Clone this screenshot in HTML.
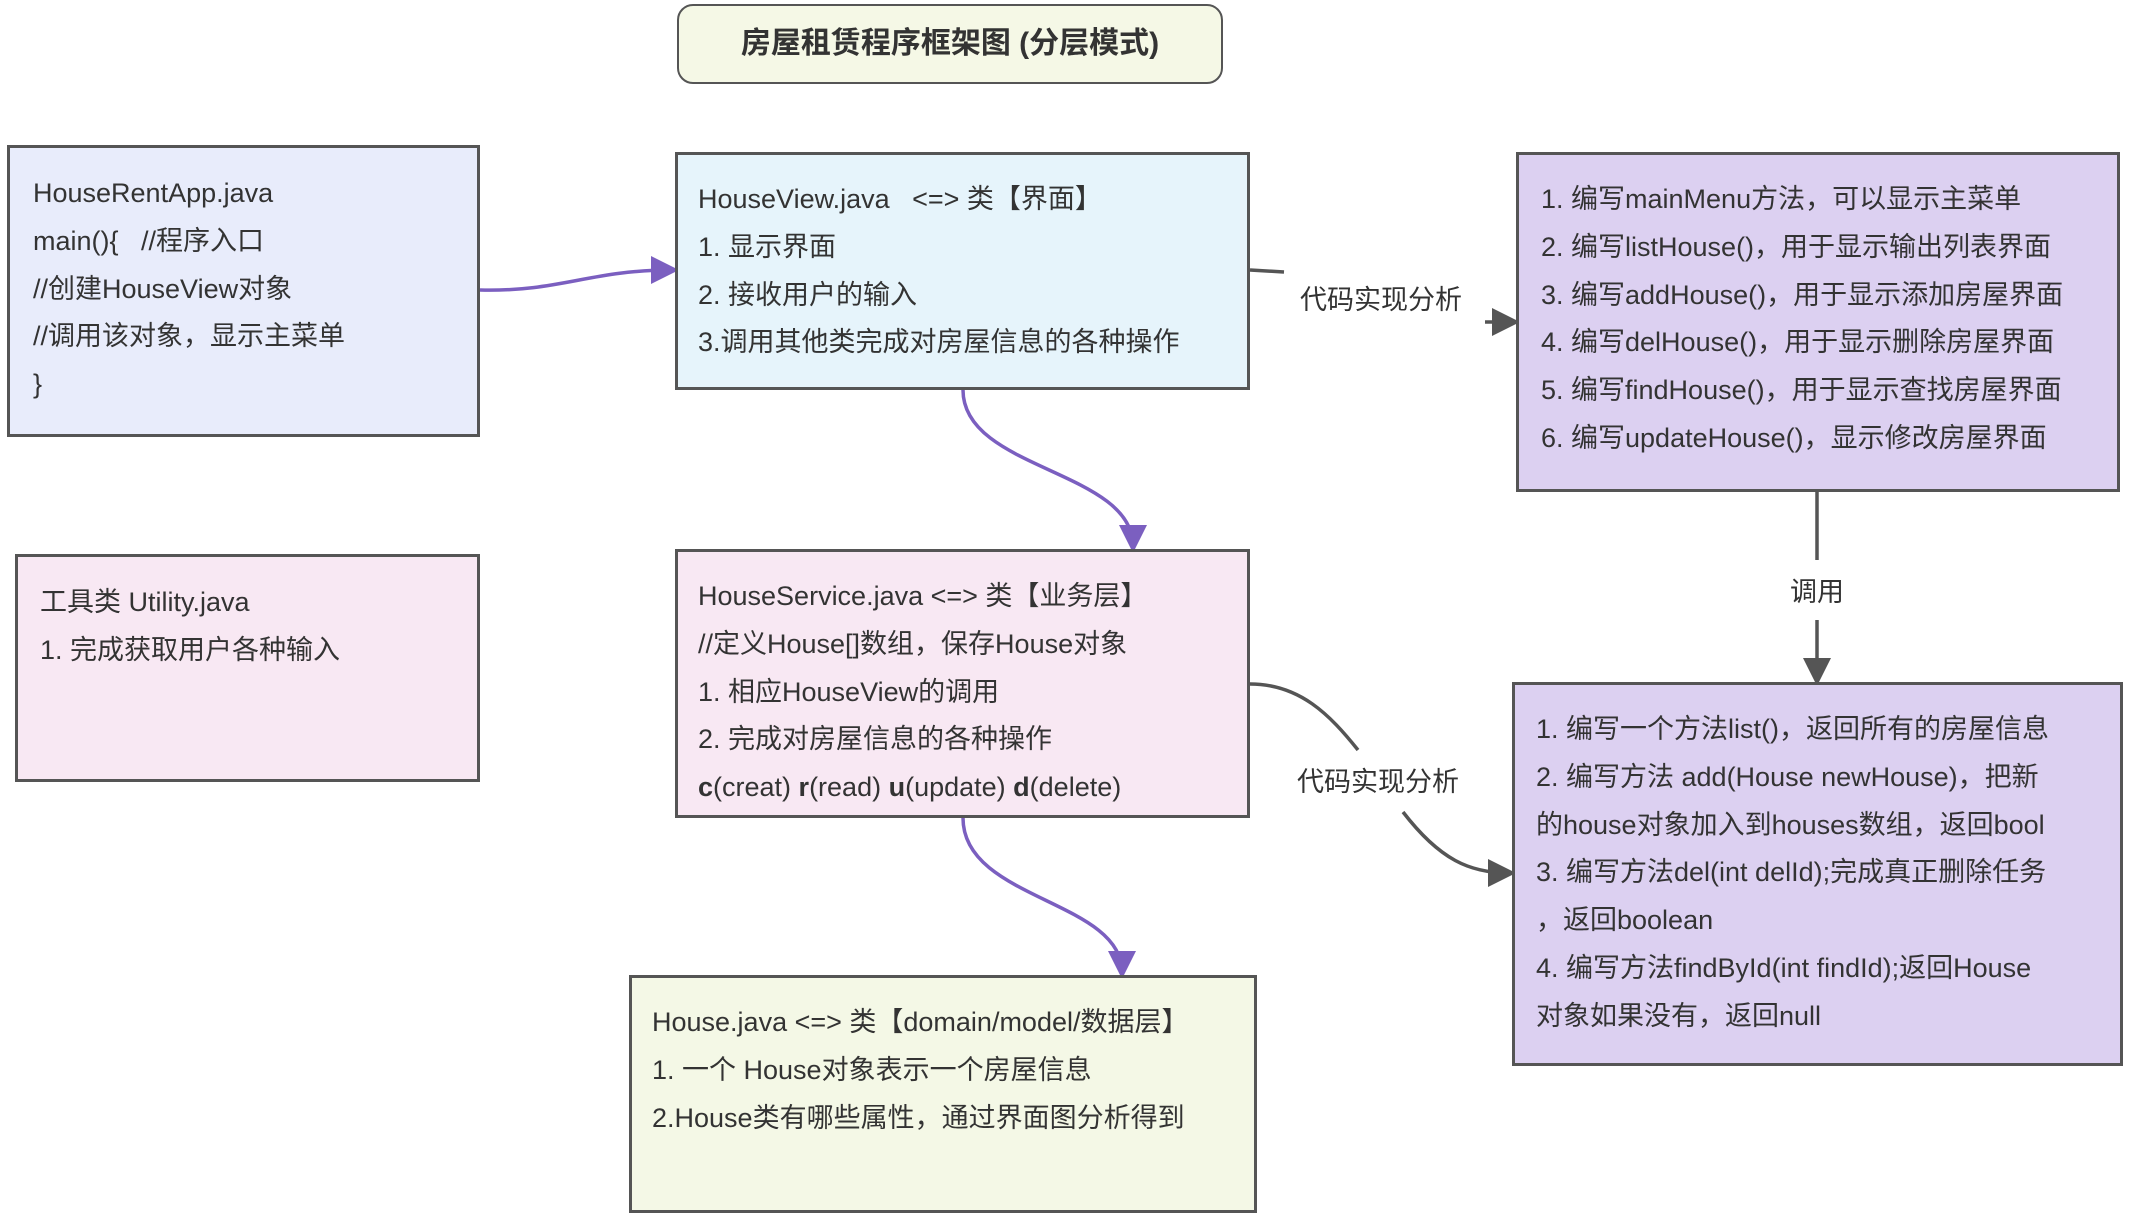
<!DOCTYPE html>
<html><head><meta charset="utf-8"><style>
body{margin:0;width:2130px;height:1219px;background:#fff;position:relative;overflow:hidden;font-family:"Liberation Sans","Noto Sans CJK SC",sans-serif;color:#333;}
.b{position:absolute;box-sizing:border-box;border:3px solid #555;font-size:27px;line-height:47.8px;white-space:nowrap;}
.l{position:absolute;font-size:27px;color:#333;background:#fff;white-space:nowrap;}
</style></head><body>
<svg width="2130" height="1219" style="position:absolute;left:0;top:0">
<defs>
<marker id="p" markerWidth="8" markerHeight="8" refX="6" refY="4" orient="auto"><path d="M0,0L8,4L0,8z" fill="#7b5fc0"/></marker>
<marker id="g" markerWidth="8" markerHeight="8" refX="6" refY="4" orient="auto"><path d="M0,0L8,4L0,8z" fill="#555"/></marker>
</defs>
<g fill="none" stroke-width="3.5">
<path d="M480,290 C560,292 590,270 672,270" stroke="#7b5fc0" marker-end="url(#p)"/>
<path d="M963,390 C963,470 1133,470 1133,546" stroke="#7b5fc0" marker-end="url(#p)"/>
<path d="M963,818 C963,900 1122,900 1122,972" stroke="#7b5fc0" marker-end="url(#p)"/>
<path d="M1250,270 L1284,272" stroke="#555"/>
<path d="M1485,322 L1513,322" stroke="#555" marker-end="url(#g)"/>
<path d="M1817,492 L1817,560" stroke="#555"/>
<path d="M1817,620 L1817,679" stroke="#555" marker-end="url(#g)"/>
<path d="M1250,684 C1300,684 1330,715 1358,750" stroke="#555"/>
<path d="M1403,812 C1440,860 1470,873 1509,873" stroke="#555" marker-end="url(#g)"/>
</g>
</svg>
<div class="b" style="left:677px;top:4px;width:546px;height:80px;border-radius:16px;background:#f5f8e6;border-width:2px;text-align:center;line-height:76px;font-weight:bold;font-size:30px;">房屋租赁程序框架图 (分层模式)</div>
<div class="b" style="left:7px;top:145px;width:473px;height:292px;background:#e8ecfb;padding:22px 0 0 23px;">HouseRentApp.java<br>main(){&nbsp;&nbsp; //程序入口<br>//创建HouseView对象<br>//调用该对象，显示主菜单<br>}</div>
<div class="b" style="left:15px;top:554px;width:465px;height:228px;background:#f8e8f3;padding:22px 0 0 22px;">工具类 Utility.java<br>1. 完成获取用户各种输入</div>
<div class="b" style="left:675px;top:152px;width:575px;height:238px;background:#e6f4fb;padding:21px 0 0 20px;">HouseView.java&nbsp;&nbsp; &lt;=&gt; 类【界面】<br>1. 显示界面<br>2. 接收用户的输入<br>3.调用其他类完成对房屋信息的各种操作</div>
<div class="b" style="left:675px;top:549px;width:575px;height:269px;background:#f8e8f3;padding:21px 0 0 20px;">HouseService.java &lt;=&gt; 类【业务层】<br>//定义House[]数组，保存House对象<br>1. 相应HouseView的调用<br>2. 完成对房屋信息的各种操作<br><b>c</b>(creat) <b>r</b>(read) <b>u</b>(update) <b>d</b>(delete)</div>
<div class="b" style="left:629px;top:975px;width:628px;height:238px;background:#f4f8e6;padding:21px 0 0 20px;">House.java &lt;=&gt; 类【domain/model/数据层】<br>1. 一个 House对象表示一个房屋信息<br>2.House类有哪些属性，通过界面图分析得到</div>
<div class="b" style="left:1516px;top:152px;width:604px;height:340px;background:#dcd0f1;padding:21px 0 0 22px;">1. 编写mainMenu方法，可以显示主菜单<br>2. 编写listHouse()，用于显示输出列表界面<br>3. 编写addHouse()，用于显示添加房屋界面<br>4. 编写delHouse()，用于显示删除房屋界面<br>5. 编写findHouse()，用于显示查找房屋界面<br>6. 编写updateHouse()，显示修改房屋界面</div>
<div class="b" style="left:1512px;top:682px;width:611px;height:384px;background:#dcd0f1;padding:21px 0 0 21px;">1. 编写一个方法list()，返回所有的房屋信息<br>2. 编写方法 add(House newHouse)，把新<br>的house对象加入到houses数组，返回bool<br>3. 编写方法del(int delId);完成真正删除任务<br>，返回boolean<br>4. 编写方法findById(int findId);返回House<br>对象如果没有，返回null</div>
<div class="l" style="left:1300px;top:278px;">代码实现分析</div>
<div class="l" style="left:1790px;top:570px;">调用</div>
<div class="l" style="left:1297px;top:760px;">代码实现分析</div>
</body></html>
